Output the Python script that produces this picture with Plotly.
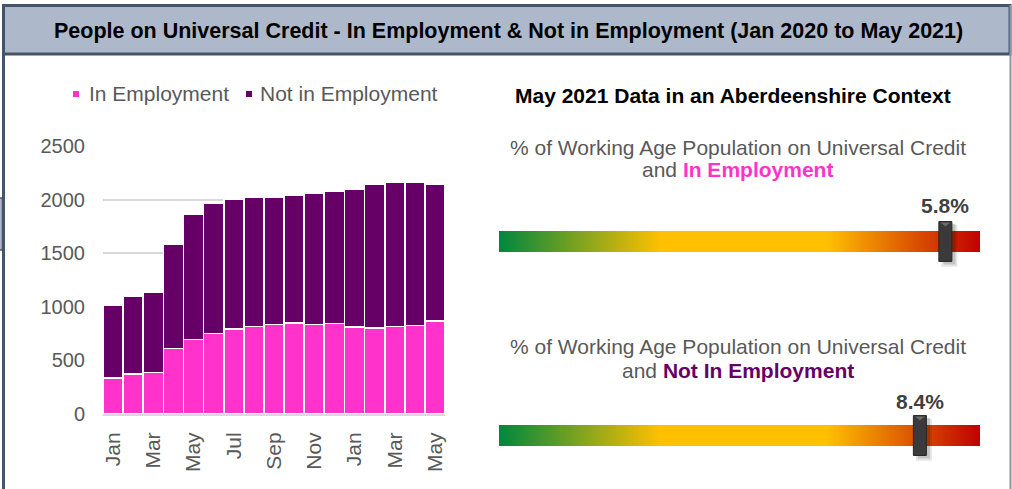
import plotly.graph_objects as go

# ---------------- data ----------------
months = ["Jan 2020", "Feb 2020", "Mar 2020", "Apr 2020", "May 2020", "Jun 2020",
          "Jul 2020", "Aug 2020", "Sep 2020", "Oct 2020", "Nov 2020", "Dec 2020",
          "Jan 2021", "Feb 2021", "Mar 2021", "Apr 2021", "May 2021"]
month_labels = ["Jan", "Feb", "Mar", "Apr", "May", "Jun", "Jul", "Aug", "Sep",
                "Oct", "Nov", "Dec", "Jan", "Feb", "Mar", "Apr", "May"]
in_employment = [335, 372, 385, 608, 692, 748, 794, 819, 837, 850, 837, 841,
                 813, 803, 819, 828, 868]
not_in_employment = [679, 723, 753, 974, 1169, 1215, 1210, 1200, 1188, 1191,
                     1223, 1234, 1278, 1343, 1340, 1331, 1278]
y_ticks = [0, 500, 1000, 1500, 2000, 2500]

gauge_names = ["In Employment", "Not In Employment"]
gauge_values = [5.8, 8.4]
gauge_scale_max = [6.25, 9.6]

# ---------------- style ----------------
W, H = 1012, 489
FONT = "Liberation Sans, Arial, sans-serif"
PINK = "#ff33cc"
PURPLE = "#660066"
GREY_TXT = "#595959"
GRID = "#d9d9d9"


def px(x):
    return x / W


def py(y):
    return 1 - y / H


fig = go.Figure()

fig.add_trace(go.Bar(x=months, y=in_employment, name="In Employment",
                     marker=dict(color=PINK, line=dict(color="white", width=1.3)),
                     showlegend=False))
fig.add_trace(go.Bar(x=months, y=not_in_employment, name="Not in Employment",
                     marker=dict(color=PURPLE, line=dict(color="white", width=1.3)),
                     showlegend=False))

gradient = [[0.0, "#00873e"], [0.335, "#ffc000"], [0.68, "#ffc000"], [1.0, "#c00000"]]
gauge_axes = [("x2", "y2"), ("x3", "y3")]
for i, (xa, ya) in enumerate(gauge_axes):
    fig.add_trace(go.Heatmap(x=[0, gauge_scale_max[i]], y=[0], z=[[0, 1]],
                             zmin=0, zmax=1, zsmooth="best", colorscale=gradient,
                             showscale=False, hoverinfo="skip", xaxis=xa, yaxis=ya))

# domains (pixel based)
bar_x = [px(103), px(445)]
bar_y = [py(414), py(146)]
g1_y = [py(267.75), py(215.25)]
g2_y = [py(461.75), py(409.25)]
g_x = [px(499), px(980)]

fig.update_layout(
    width=W, height=H, autosize=False,
    margin=dict(l=0, r=0, t=0, b=0, pad=0, autoexpand=False),
    paper_bgcolor="white", plot_bgcolor="white",
    font=dict(family=FONT, color=GREY_TXT, size=20),
    barmode="stack", bargap=0.02, showlegend=False,
    xaxis=dict(domain=bar_x, type="category", tickvals=months[::2],
               ticktext=month_labels[::2], tickangle=-90, automargin=False,
               tickfont=dict(size=21, color=GREY_TXT), showline=True,
               linecolor=GRID, linewidth=2, showgrid=False, ticks="",
               ticklabelstandoff=8),
    yaxis=dict(domain=bar_y, range=[0, 2500], tickvals=y_ticks, automargin=False,
               showgrid=True, gridcolor=GRID, gridwidth=2, zeroline=False,
               tickfont=dict(size=20, color=GREY_TXT), ticks="",
               ticklabelstandoff=17),
    xaxis2=dict(domain=g_x, range=[0, gauge_scale_max[0]], anchor="y2", visible=False,
                automargin=False),
    yaxis2=dict(domain=g1_y, range=[-1.25, 1.25], anchor="x2", visible=False,
                automargin=False),
    xaxis3=dict(domain=g_x, range=[0, gauge_scale_max[1]], anchor="y3", visible=False,
                automargin=False),
    yaxis3=dict(domain=g2_y, range=[-1.25, 1.25], anchor="x3", visible=False,
                automargin=False),
)

shapes = []
# header band
shapes.append(dict(type="rect", xref="paper", yref="paper",
                   x0=px(3.5), x1=px(1010), y0=py(54), y1=py(5.5),
                   fillcolor="#adb9ca", line=dict(color="#44546a", width=3), layer="below"))
# frame lines
shapes.append(dict(type="line", xref="paper", yref="paper",
                   x0=px(3.5), x1=px(3.5), y0=py(5), y1=py(489),
                   line=dict(color="#44546a", width=3)))
shapes.append(dict(type="line", xref="paper", yref="paper",
                   x0=px(1010.5), x1=px(1010.5), y0=py(5), y1=py(489),
                   line=dict(color="#8497b0", width=2)))
# little tab on the left
shapes.append(dict(type="rect", xref="paper", yref="paper",
                   x0=px(-2), x1=px(2.5), y0=py(250), y1=py(198),
                   fillcolor="#adb9ca", line=dict(color="#44546a", width=1.5)))

# legend swatches
shapes.append(dict(type="rect", xref="paper", yref="paper",
                   x0=px(73), x1=px(79), y0=py(97), y1=py(91),
                   fillcolor=PINK, line=dict(width=0)))
shapes.append(dict(type="rect", xref="paper", yref="paper",
                   x0=px(246), x1=px(252), y0=py(97), y1=py(91),
                   fillcolor=PURPLE, line=dict(width=0)))

# gauge markers
for i, (xa, ya) in enumerate(gauge_axes):
    v = gauge_values[i]
    shapes.append(dict(type="rect", xref=xa, yref=ya, xsizemode="pixel", xanchor=v,
                       x0=-4, x1=12, y0=-1.2, y1=0.8,
                       fillcolor="rgba(0,0,0,0.10)", line=dict(width=0)))
    shapes.append(dict(type="rect", xref=xa, yref=ya, xsizemode="pixel", xanchor=v,
                       x0=-2, x1=10, y0=-1.1, y1=0.85,
                       fillcolor="rgba(0,0,0,0.15)", line=dict(width=0)))
    shapes.append(dict(type="rect", xref=xa, yref=ya, xsizemode="pixel", xanchor=v,
                       x0=-6.5, x1=6.5, y0=-0.95, y1=0.95,
                       fillcolor="#3a3a3a", line=dict(color="#262626", width=1)))
    shapes.append(dict(type="path", xref=xa, yref=ya, xsizemode="pixel", xanchor=v,
                       path="M-5,0.9 L5,0.9 L0,0.72 Z",
                       fillcolor="#6b6b6b", line=dict(width=0)))

fig.update_layout(shapes=shapes)

ann = []
ann.append(dict(text="<b>People on Universal Credit - In Employment &amp; Not in Employment (Jan 2020 to May 2021)</b>",
                xref="paper", yref="paper", x=px(508), y=py(31), showarrow=False,
                font=dict(family="Liberation Sans Narrow, Arial Narrow, Liberation Sans, Arial",
                          size=21.5, color="black"),
                xanchor="center", yanchor="middle"))
ann.append(dict(text="In Employment", xref="paper", yref="paper", x=px(87), y=py(94),
                showarrow=False, xanchor="left", yanchor="middle",
                font=dict(size=21, color=GREY_TXT)))
ann.append(dict(text="Not in Employment", xref="paper", yref="paper", x=px(258), y=py(94),
                showarrow=False, xanchor="left", yanchor="middle",
                font=dict(size=21, color=GREY_TXT)))
ann.append(dict(text="<b>May 2021 Data in an Aberdeenshire Context</b>",
                xref="paper", yref="paper", x=px(733), y=py(95), showarrow=False,
                xanchor="center", yanchor="middle", font=dict(size=21, color="black")))

line1_y = [147, 346]
line2_y = [170, 370]
name_colors = [PINK, PURPLE]
for i, (xa, ya) in enumerate(gauge_axes):
    ann.append(dict(text="% of Working Age Population on Universal Credit",
                    xref="paper", yref="paper", x=px(737.5), y=py(line1_y[i]),
                    showarrow=False, xanchor="center", yanchor="middle",
                    font=dict(size=21, color=GREY_TXT)))
    ann.append(dict(text="and <b><span style='color:%s'>%s</span></b>" % (name_colors[i], gauge_names[i]),
                    xref="paper", yref="paper", x=px(737.5), y=py(line2_y[i]),
                    showarrow=False, xanchor="center", yanchor="middle",
                    font=dict(size=21, color=GREY_TXT)))
    label_y = [205, 401][i]
    ann.append(dict(text="<b>%.1f%%</b>" % gauge_values[i], xref=xa, yref="paper",
                    x=gauge_values[i], y=py(label_y), showarrow=False,
                    xanchor="center", yanchor="middle",
                    font=dict(size=21, color="#404040")))

fig.update_layout(annotations=ann)

fig.write_html(
    "out.html",
    config={"displayModeBar": False},
    post_script="document.body.style.margin='0';document.documentElement.style.overflow='hidden';",
)
